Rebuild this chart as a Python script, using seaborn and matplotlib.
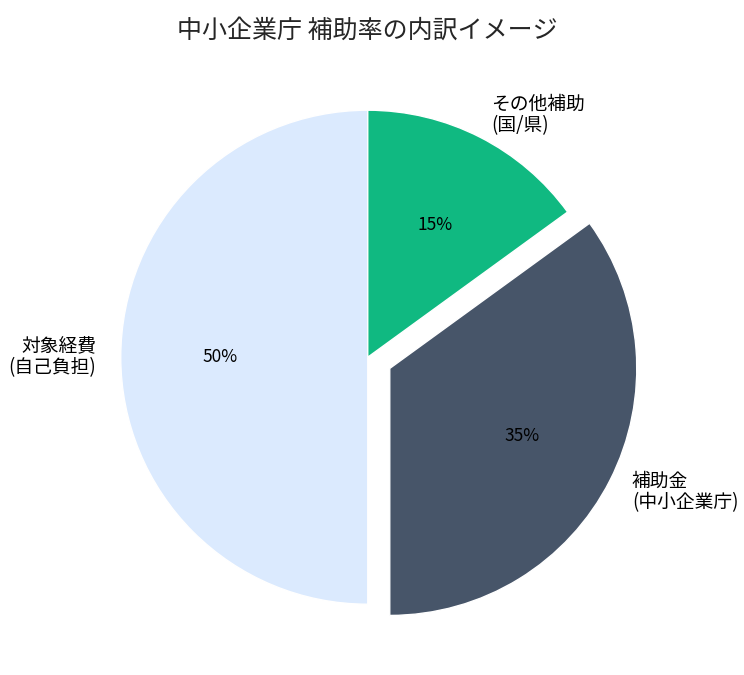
import matplotlib
matplotlib.use("Agg")
import matplotlib.pyplot as plt
import seaborn as sns

sns.set_theme(style="white")
plt.rcParams['font.family'] = ['Noto Sans CJK JP', 'DejaVu Sans']

# data
labels = ['対象経費\n(自己負担)', '補助金\n(中小企業庁)', 'その他補助\n(国/県)']
shares = [50, 35, 15]
colors = ['#DBEAFE', '#475569', '#10B981']
explode = [0, 0.1, 0]

fig = plt.figure(figsize=(7.44, 6.75), dpi=100)
ax = fig.add_axes([0.0793, 0.0133, 0.83, 0.915])
wedges, texts, autotexts = ax.pie(
    shares, labels=labels, colors=colors, explode=explode,
    autopct='%1.0f%%', startangle=90,
    textprops={'fontsize': 12, 'color': 'black'})
for t in texts:
    t.set_fontsize(13.5)
    t.set_linespacing(1.05)
for t in autotexts:
    t.set_fontsize(12.5)
ax.set_aspect('equal')
ax.set_title('中小企業庁 補助率の内訳イメージ', fontsize=18, pad=8)

plt.savefig('out.png', dpi=100)
plt.close()
